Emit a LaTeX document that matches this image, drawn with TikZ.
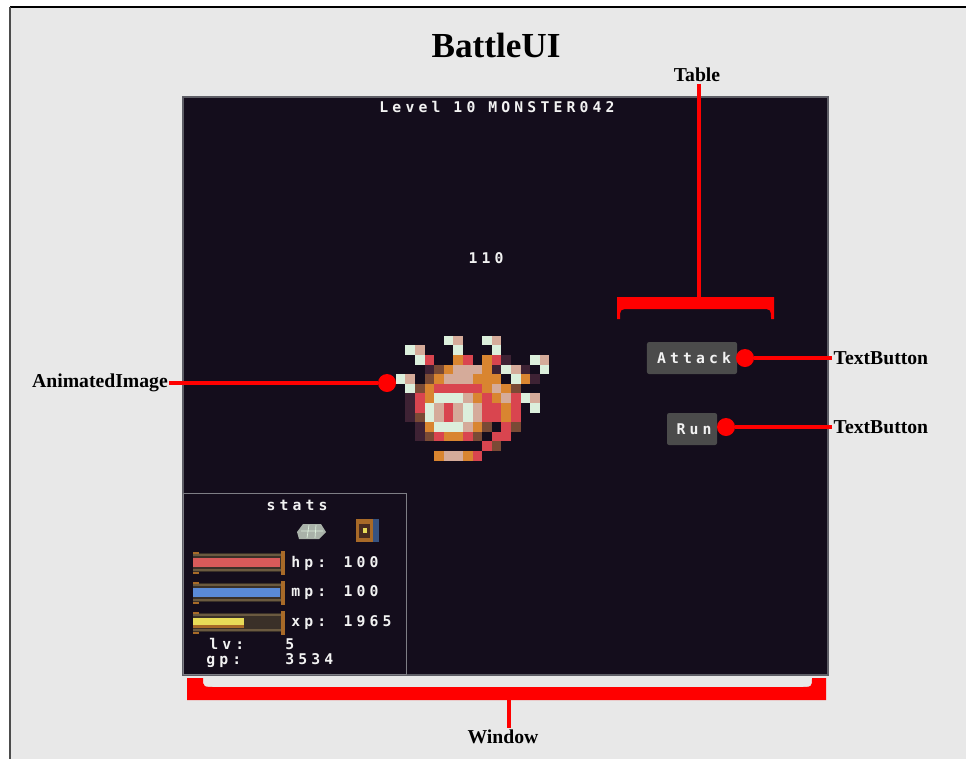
\documentclass[tikz,border=0pt]{standalone}
\usepackage{fontspec}
\setmainfont{Liberation Serif}
\newfontfamily\pixfont[LetterSpace=28]{DejaVu Sans Mono Bold}
\usepackage{tikz}
\usetikzlibrary{positioning}

\definecolor{pagegray}{HTML}{E8E8E8}
\definecolor{screen}{HTML}{140D1C}
\definecolor{screenedge}{HTML}{5E5E66}
\definecolor{pixwhite}{HTML}{F2F2F2}
\definecolor{btngray}{HTML}{4B4B4B}
% sprite palette
\definecolor{mW}{HTML}{DCEFDC}
\definecolor{mP}{HTML}{D5AB9A}
\definecolor{mR}{HTML}{D9454F}
\definecolor{mO}{HTML}{D98530}
\definecolor{mB}{HTML}{7A4A35}
\definecolor{mD}{HTML}{3E2234}
% stat bars
\definecolor{barbg}{HTML}{3A3028}
\definecolor{barrim}{HTML}{6B5A40}
\definecolor{barcap}{HTML}{A86A28}
\definecolor{hpred}{HTML}{D85A5A}
\definecolor{mpblue}{HTML}{5A8AD8}
\definecolor{xpyel}{HTML}{E8DC58}

\begin{document}
\begin{tikzpicture}[x=0.025cm,y=-0.025cm,
    lbl/.style={font=\fontsize{14}{16}\selectfont\bfseries, inner sep=1pt},
    pix/.style={font=\pixfont\fontsize{10.5}{12}\selectfont, text=pixwhite, inner sep=0pt},
    tight/.style={text height=5.5pt, text depth=0pt},
    dot/.style={circle, fill=red, inner sep=0pt, minimum size=0.45cm},
    lead/.style={draw=red, line width=2.8pt},
    btn/.style={fill=btngray, rounded corners=1.5pt, inner sep=0pt, minimum height=0.8cm},
  ]
  \useasboundingbox (0,0) rectangle (966,759);
  % page
  \fill[white] (0,0) rectangle (966,759);
  \fill[pagegray] (10,7) rectangle (966,759);
  \draw[black, line width=1.2pt] (10,7) -- (966,7);
  \draw[black!70, line width=1.2pt] (10,7) -- (10,759);

  \node[lbl, font=\fontsize{25}{30}\selectfont\bfseries] (title) at (496,45) {BattleUI};

  % game screen
  \fill[screen] (183,97) rectangle (828,675);
  \draw[screenedge, line width=1.2pt] (183,97) rectangle (828,675);
  \node[pix] (header) at (497,107) {Level 10 MONSTER042};
  \node[pix] (hpnum) at (486,258) {110};

  % monster sprite
  \foreach \c/\r/\k in {5/0/mW, 6/0/mP, 9/0/mW, 10/0/mP,
      1/1/mW, 2/1/mP, 6/1/mW, 10/1/mW,
      2/2/mW, 3/2/mR, 6/2/mO, 7/2/mR, 9/2/mO, 10/2/mR, 11/2/mD, 14/2/mW, 15/2/mP,
      3/3/mD, 4/3/mB, 5/3/mO, 6/3/mP, 7/3/mP, 8/3/mP, 9/3/mO, 10/3/mD, 11/3/mW, 12/3/mP, 13/3/mD, 15/3/mW,
      0/4/mW, 1/4/mP, 3/4/mB, 4/4/mO, 5/4/mP, 6/4/mP, 7/4/mP, 8/4/mO, 9/4/mO, 10/4/mO, 12/4/mW, 13/4/mO, 14/4/mD,
      1/5/mW, 2/5/mB, 3/5/mO, 4/5/mR, 5/5/mR, 6/5/mR, 7/5/mR, 8/5/mR, 9/5/mO, 10/5/mP, 11/5/mO, 12/5/mB,
      1/6/mD, 2/6/mR, 3/6/mO, 4/6/mW, 5/6/mW, 6/6/mW, 7/6/mP, 8/6/mO, 9/6/mR, 10/6/mO, 11/6/mP, 12/6/mR, 13/6/mW, 14/6/mP,
      1/7/mD, 2/7/mR, 3/7/mW, 4/7/mP, 5/7/mR, 6/7/mP, 7/7/mW, 8/7/mP, 9/7/mR, 10/7/mR, 11/7/mO, 12/7/mR, 14/7/mW,
      1/8/mD, 2/8/mB, 3/8/mW, 4/8/mP, 5/8/mR, 6/8/mP, 7/8/mW, 8/8/mP, 9/8/mR, 10/8/mR, 11/8/mO, 12/8/mR,
      2/9/mD, 3/9/mO, 4/9/mW, 5/9/mW, 6/9/mW, 7/9/mP, 8/9/mO, 9/9/mB, 11/9/mR, 12/9/mB,
      2/10/mD, 3/10/mB, 4/10/mR, 5/10/mO, 6/10/mO, 7/10/mR, 8/10/mB, 10/10/mR, 11/10/mR,
      9/11/mR, 10/11/mB,
      4/12/mO, 5/12/mP, 6/12/mP, 7/12/mO, 8/12/mR}
    \fill[\k] ({395.7+\c*9.6},{335.7+\r*9.6}) rectangle ++(9.7,9.7);

  % stats panel
  \draw[screenedge!80!white, line width=0.7pt] (183,493) rectangle (406,674);
  \node[pix] (stats) at (297,505) {stats};
  % pad icon
  \fill[mW!45!gray] (303,524) -- (321,524) -- (326,532) -- (319,539) -- (299,539) -- (297,532) -- cycle;
  \draw[mW, line width=0.5pt] (301,531) -- (323,531) (309,525) -- (307,538) (316,525) -- (315,538);
  % chest icon
  \fill[mpblue!60!black] (370,519) rectangle (379,542);
  \fill[barcap] (356,519) rectangle (373,542);
  \fill[mB!60!black] (359,524) rectangle (370,538);
  \fill[xpyel] (363,528) rectangle (367,533);
  % bars
  \foreach \y/\k/\w in {553/hpred/280, 583/mpblue/280, 613/xpyel/244} {
    \fill[barbg] (193,\y) rectangle (281,\y+19);
    \fill[barrim] (193,\y+1) rectangle (281,\y+3);
    \fill[barrim] (193,\y+16) rectangle (281,\y+18);
    \fill[\k] (193,\y+5) rectangle (\w,\y+14);
    \fill[barcap] (281,\y-2) rectangle (285,\y+22);
    \fill[barcap] (193,\y-1) rectangle (199,\y+1);
    \fill[barcap] (193,\y+19) rectangle (199,\y+21);
  }
  \fill[barcap] (193,625) rectangle (244,628);
  \node[pix, anchor=west] (hp) at (291,563) {hp: 100};
  \node[pix, anchor=west] (mp) at (291,593) {mp: 100};
  \node[pix, anchor=west] (xp) at (291,623) {xp: 1965};
  \node[pix, tight, anchor=west] (lv) at (209,646) {lv:};
  \node[pix, tight, anchor=west] (lvval) at (285,646) {5};
  \node[pix, tight, anchor=west] (gp) at (206,661) {gp:};
  \node[pix, tight, anchor=west] (gpval) at (285,661) {3534};

  % buttons
  \node[btn, minimum width=2.25cm] (attack) at (692,358) {};
  \node[pix] at ([xshift=1.5pt]attack.center) {Attack};
  \node[btn, minimum width=1.25cm] (run) at (692,429) {};
  \node[pix] at ([xshift=1.5pt]run.center) {Run};

  % table bracket
  \fill[red] (617,297) -- (774,297) -- (774,319) -- (771,319)
    .. controls (771,309) .. (761,309) -- (630,309)
    .. controls (620,309) .. (620,319) -- (617,319) -- cycle;
  \coordinate (tbltop) at (699,297);
  \node[lbl] (table) at (697,75) {Table};
  \draw[red, line width=2.8pt] (table.south) ++(2,0) -- (tbltop);

  % window bracket
  \fill[red] (187,678) -- (187,700) -- (826,700) -- (826,678) -- (812,678)
    .. controls (812,687) .. (800,687) -- (216,687)
    .. controls (203,687) .. (203,678) -- cycle;
  \coordinate (winbot) at (509,699);
  \node[lbl] (window) at (503,737) {Window};
  \draw[red, line width=2.8pt] (winbot) -- (window.north -| winbot);

  % callouts
  \node[lbl] (animlbl) at (100,383) {AnimatedImage};
  \node[dot] (animdot) at (387,383) {};
  \draw[lead] (animlbl.east) -- (animdot);

  \node[dot] (attackdot) at (745,358) {};
  \node[lbl, anchor=west] (attacklbl) at (832,358) {TextButton};
  \draw[lead] (attackdot) -- (attacklbl.west);

  \node[dot] (rundot) at (726,427) {};
  \node[lbl, anchor=west] (runlbl) at (832,427) {TextButton};
  \draw[lead] (rundot) -- (runlbl.west);
\end{tikzpicture}
\end{document}
